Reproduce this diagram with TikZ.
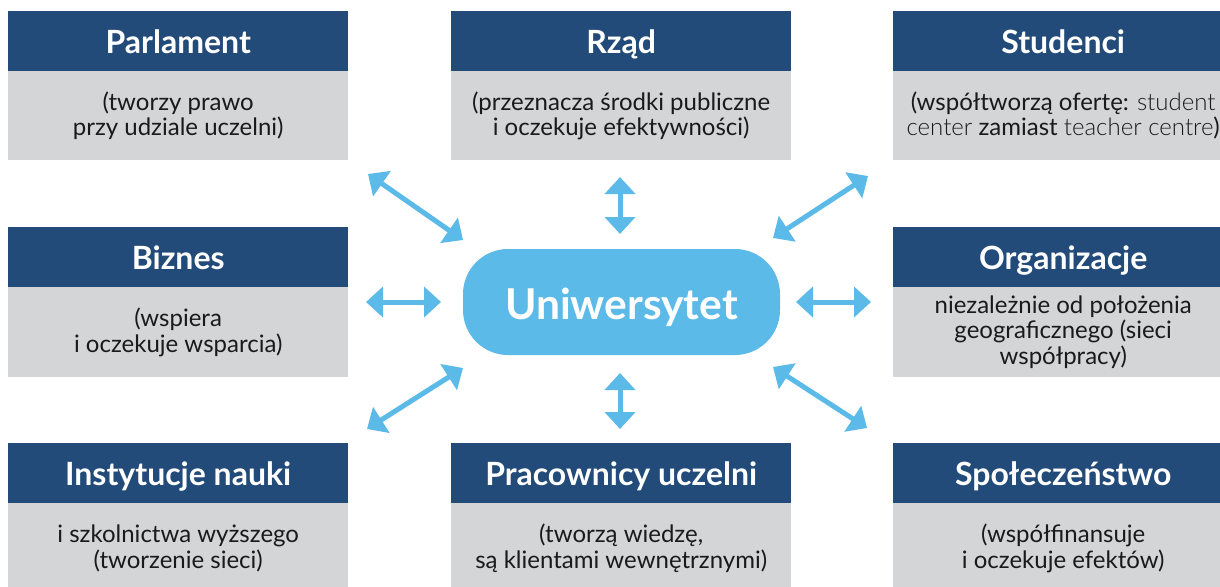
\documentclass[tikz,border=0pt]{standalone}
\usepackage{fontspec}
\setmainfont{Lato}
\newfontfamily\latolight{Lato Light}
\usetikzlibrary{arrows.meta}
\definecolor{hdr}{HTML}{224B7A}
\definecolor{bodyg}{HTML}{D4D5D7}
\definecolor{uni}{HTML}{5CBAE9}
\definecolor{txt}{HTML}{1A1A1A}
\begin{document}
\begin{tikzpicture}[x=1pt,y=-1pt,
  hdrbox/.style={fill=hdr, text=white, minimum width=340pt, minimum height=60pt, inner sep=0pt,
    text height=24pt, text depth=0pt,
    font=\bfseries\fontsize{32}{38}\selectfont, anchor=north west},
  bodybox/.style={fill=bodyg, text=txt, minimum width=340pt, minimum height=89pt, inner sep=0pt,
    align=center, font=\fontsize{24}{25.5}\selectfont, anchor=north west},
  dblarrow/.style={draw=uni, line width=5pt, {Triangle[width=30pt,length=17pt]}-{Triangle[width=30pt,length=17pt]}}]
\useasboundingbox (0,0) rectangle (1220,586);
\clip (0,0) rectangle (1220,586);
\fill[white] (0,0) rectangle (1220,586);

% top row
\node[hdrbox] (parlH) at (8,11) {Parlament};
\node[bodybox] (parlB) at (8,71) {(tworzy prawo\\przy udziale uczelni)};
\node[hdrbox] (rzadH) at (451,11) {Rząd};
\node[bodybox] (rzadB) at (451,71) {(przeznacza środki publiczne\\i oczekuje efektywności)};
\node[hdrbox] (studH) at (893,11) {Studenci};
\node[bodybox] (studB) at (893,71) {(współtworzą ofertę: {\latolight student}\\{\latolight center} zamiast {\latolight teacher centre})};

% middle row
\node[hdrbox] (bizH) at (8,227) {Biznes};
\node[bodybox, minimum height=90pt] (bizB) at (8,287) {(wspiera\\i oczekuje wsparcia)};
\node[hdrbox] (orgH) at (893,227) {Organizacje};
\node[bodybox, minimum height=90pt] (orgB) at (893,287) {niezależnie od położenia\\geograficznego (sieci\\współpracy)};

% bottom row
\node[hdrbox] (instH) at (8,443) {Instytucje nauki};
\node[bodybox, minimum height=90pt] (instB) at (8,503) {i szkolnictwa wyższego\\(tworzenie sieci)};
\node[hdrbox] (pracH) at (451,443) {Pracownicy uczelni};
\node[bodybox, minimum height=90pt] (pracB) at (451,503) {(tworzą wiedzę,\\są klientami wewnętrznymi)};
\node[hdrbox] (spolH) at (893,443) {Społeczeństwo};
\node[bodybox, minimum height=90pt] (spolB) at (893,503) {(współfinansuje\\i oczekuje efektów)};

% centre
\node[fill=uni, rounded corners=45pt, minimum width=317pt, minimum height=106pt, inner sep=0pt,
  text height=34pt, text depth=0pt,
  text=white, font=\bfseries\fontsize{42.5}{48}\selectfont] (uniw) at (621.5,302) {Uniwersytet};

% arrow ends
\coordinate (tl1) at (368,174); \coordinate (tl2) at (463,240);
\coordinate (t1) at (620,177);  \coordinate (t2) at (620,234);
\coordinate (tr1) at (868,176); \coordinate (tr2) at (773,238);
\coordinate (l1) at (366,302);  \coordinate (l2) at (441,302);
\coordinate (r1) at (796,302);  \coordinate (r2) at (871,302);
\coordinate (bl1) at (463,368); \coordinate (bl2) at (367,429);
\coordinate (b1) at (620,373);  \coordinate (b2) at (620,429);
\coordinate (br1) at (773,367); \coordinate (br2) at (867,428);

\draw[dblarrow] (tl1) -- (tl2);
\draw[dblarrow] (t1) -- (t2);
\draw[dblarrow] (tr1) -- (tr2);
\draw[dblarrow] (l1) -- (l2);
\draw[dblarrow] (r1) -- (r2);
\draw[dblarrow] (bl1) -- (bl2);
\draw[dblarrow] (b1) -- (b2);
\draw[dblarrow] (br1) -- (br2);
\end{tikzpicture}
\end{document}
